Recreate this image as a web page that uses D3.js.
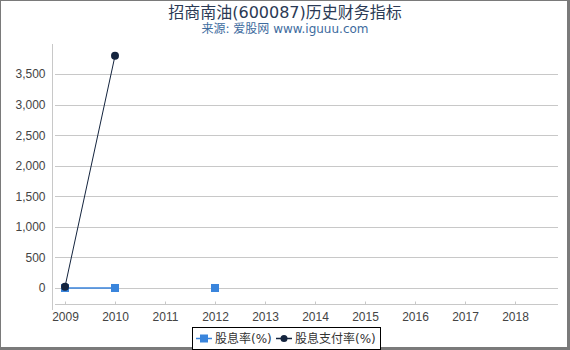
<!DOCTYPE html>
<meta charset="utf-8">
<style>
	body { margin: 0; }
	svg { font-family: "DejaVu Sans", "Noto Sans CJK SC", sans-serif; }
	.grid line { stroke: #c8c8c8; }
	.axis text { fill: #444; font-size: 12px; }
</style>
<svg id="chart" width="570" height="350"></svg>
<script src="https://d3js.org/d3.v7.min.js"></script>
<script>
	var years = [2009, 2010, 2011, 2012, 2013, 2014, 2015, 2016, 2017, 2018];
	var yieldRate = [0, 0, null, 0, null, null, null, null, null, null];   // 股息率(%)
	var payoutRate = [20, 3800, null, null, null, null, null, null, null, null]; // 股息支付率(%)
	var yTicks = [0, 500, 1000, 1500, 2000, 2500, 3000, 3500];

	var svg = d3.select("#chart");

	var x = d3.scaleLinear().domain([2008.76, 2018.86]).range([53, 558]);
	var y = d3.scaleLinear().domain([-262, 3993]).range([304, 44]);

	// outer frame
	svg.append("rect").attr("x", 0.5).attr("y", 0.5).attr("width", 568).attr("height", 348)
		.attr("fill", "#fff").attr("stroke", "#7a7a7a").attr("stroke-width", 1);
	svg.append("line").attr("x1", 568.5).attr("x2", 568.5).attr("y1", 0).attr("y2", 350)
		.attr("stroke", "#7a7a7a").attr("stroke-width", 3);
	svg.append("line").attr("x1", 0).attr("x2", 570).attr("y1", 348.5).attr("y2", 348.5)
		.attr("stroke", "#7a7a7a").attr("stroke-width", 3);

	svg.append("text").attr("x", 285).attr("y", 18).attr("text-anchor", "middle")
		.attr("fill", "#2b3a55").style("font-size", "16px").text("招商南油(600087)历史财务指标");
	svg.append("text").attr("x", 285).attr("y", 33).attr("text-anchor", "middle")
		.attr("fill", "#3d6b9e").style("font-size", "12px").text("来源: 爱股网 www.iguuu.com");

	// grid
	svg.append("g").attr("class", "grid")
		.selectAll("line").data(yTicks).enter().append("line")
		.attr("x1", 55).attr("x2", 558)
		.attr("y1", function(d) { return Math.round(y(d)) + 0.5; })
		.attr("y2", function(d) { return Math.round(y(d)) + 0.5; });

	// y axis
	var yAxis = svg.append("g").attr("class", "axis")
		.attr("transform", "translate(52.5,0)")
		.call(d3.axisLeft(y).tickValues(yTicks).tickSize(0).tickPadding(7).tickFormat(d3.format(",")));
	yAxis.select(".domain").attr("stroke", "#c8c8c8").attr("d", "M0,44V310");

	// x axis
	var xAxis = svg.append("g").attr("class", "axis")
		.attr("transform", "translate(0,304.5)")
		.call(d3.axisBottom(x).tickValues(years).tickSize(-3).tickPadding(8).tickFormat(d3.format("d")));
	xAxis.select(".domain").attr("stroke", "#c8c8c8").attr("d", "M55,0H558");
	xAxis.selectAll(".tick line").attr("stroke", "#c8c8c8");

	var pts1 = years.map(function(d, i) { return {year: d, v: yieldRate[i]}; });
	var pts2 = years.map(function(d, i) { return {year: d, v: payoutRate[i]}; });

	var line = d3.line()
		.defined(function(d) { return d.v != null; })
		.x(function(d) { return x(d.year); })
		.y(function(d) { return y(d.v); });

	svg.append("path").datum(pts1).attr("d", line)
		.attr("fill", "none").attr("stroke", "#3a85dc").attr("stroke-width", 1.5);
	svg.append("path").datum(pts2).attr("d", line)
		.attr("fill", "none").attr("stroke", "#14243e").attr("stroke-width", 1);

	svg.selectAll(".sq").data(pts1.filter(function(d) { return d.v != null; }))
		.enter().append("rect").attr("class", "sq")
		.attr("x", function(d) { return x(d.year) - 4; })
		.attr("y", function(d) { return y(d.v) - 4; })
		.attr("width", 8).attr("height", 8).attr("fill", "#3a85dc");

	svg.selectAll(".dot").data(pts2.filter(function(d) { return d.v != null; }))
		.enter().append("circle").attr("class", "dot")
		.attr("cx", function(d) { return x(d.year); })
		.attr("cy", function(d) { return y(d.v); })
		.attr("r", 4).attr("fill", "#14243e");

	// legend
	var lg = svg.append("g").attr("transform", "translate(192,327)");
	lg.append("rect").attr("x", 0.5).attr("y", 0.5).attr("width", 188).attr("height", 22)
		.attr("fill", "#fff").attr("stroke", "#000");
	lg.append("line").attr("x1", 4).attr("x2", 20).attr("y1", 11.5).attr("y2", 11.5)
		.attr("stroke", "#3a85dc").attr("stroke-width", 1.5);
	lg.append("rect").attr("x", 8).attr("y", 7.5).attr("width", 8).attr("height", 8).attr("fill", "#3a85dc");
	lg.append("text").attr("x", 23).attr("y", 16).attr("fill", "#333").style("font-size", "12px").text("股息率(%)");
	lg.append("line").attr("x1", 84).attr("x2", 100).attr("y1", 11.5).attr("y2", 11.5)
		.attr("stroke", "#14243e").attr("stroke-width", 1.5);
	lg.append("circle").attr("cx", 92).attr("cy", 11.5).attr("r", 3.5).attr("fill", "#14243e");
	lg.append("text").attr("x", 103).attr("y", 16).attr("fill", "#333").style("font-size", "12px").text("股息支付率(%)");
</script>
